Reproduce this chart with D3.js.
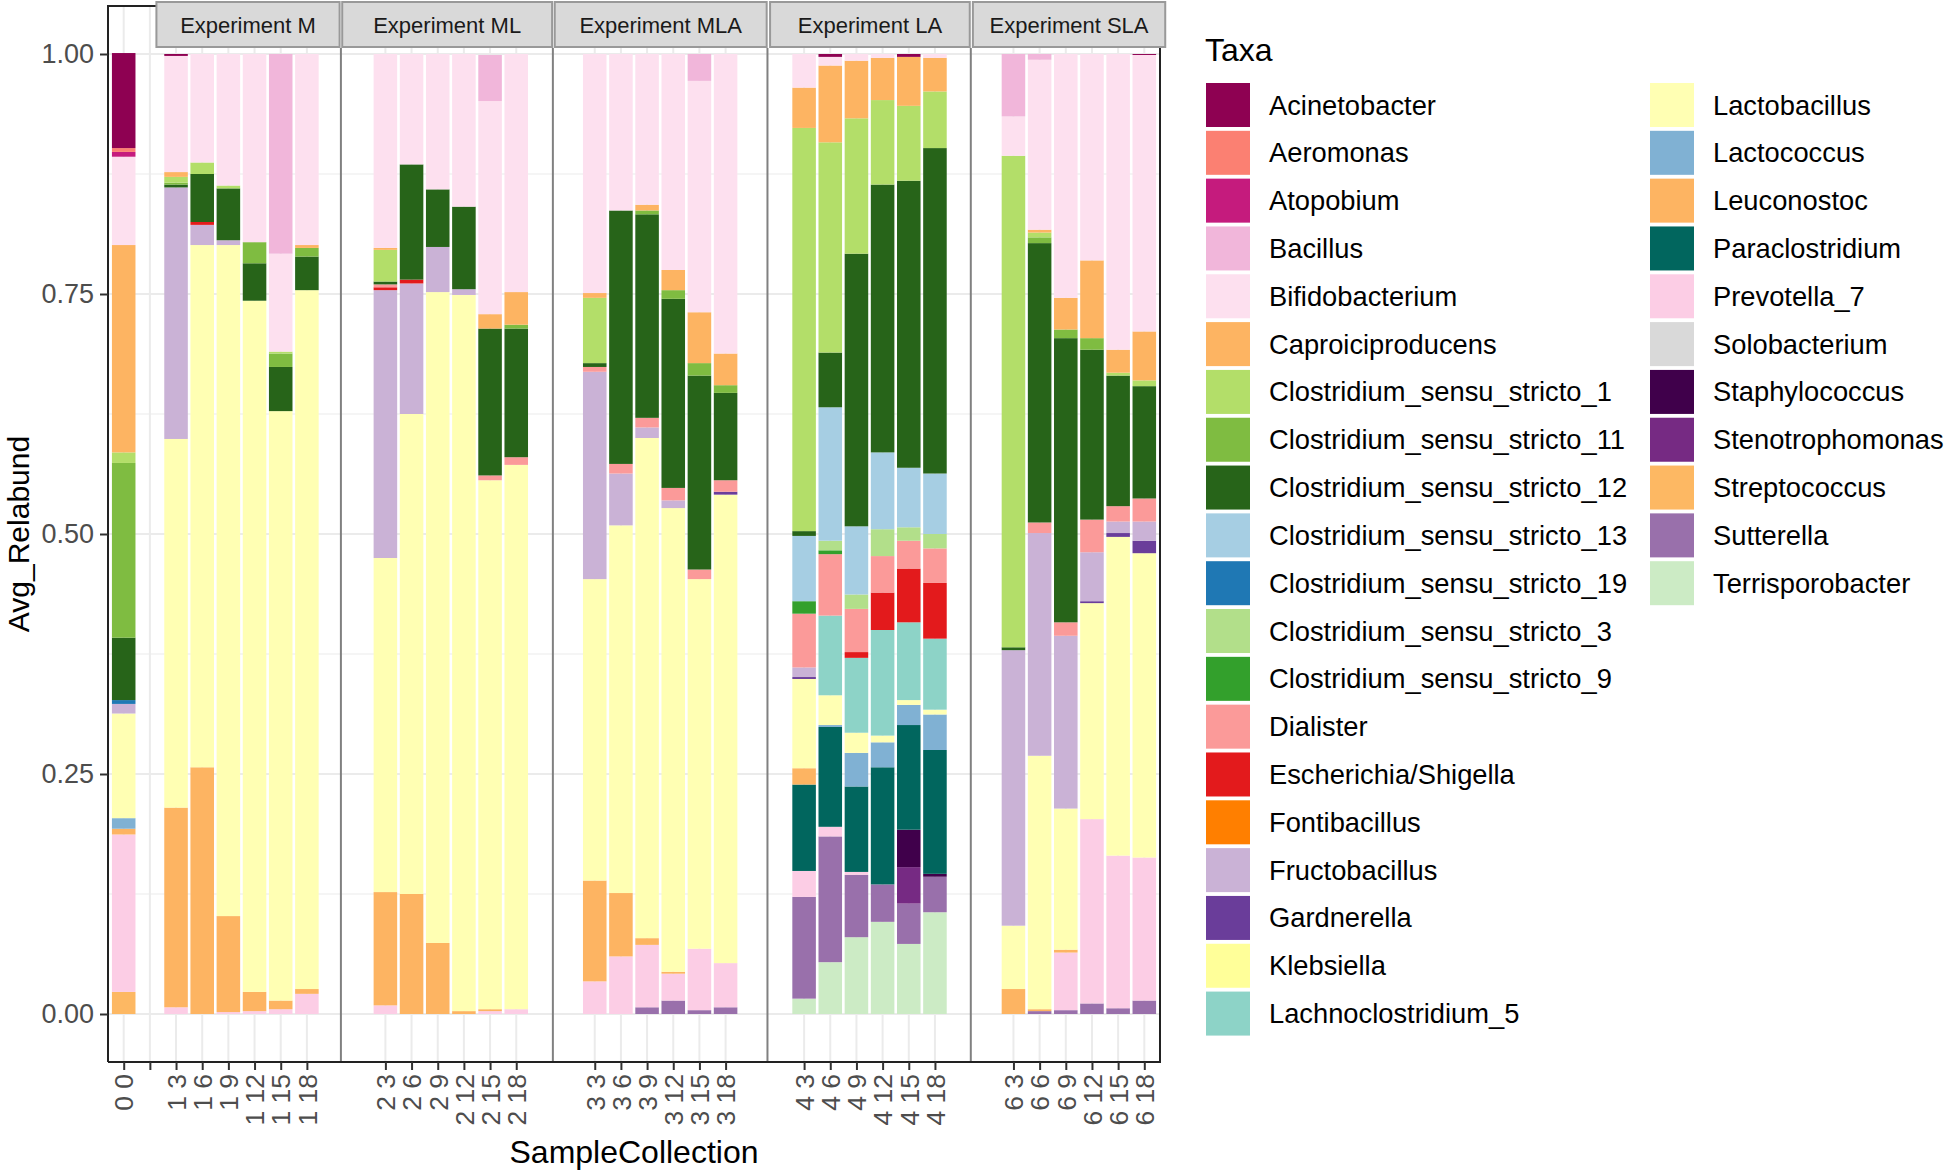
<!DOCTYPE html>
<html>
<head>
<meta charset="utf-8">
<script src="https://cdn.jsdelivr.net/npm/d3@7"></script>
<style>
  body { margin: 0; background: #fff; }
  text { font-family: "Liberation Sans", Arial, sans-serif; }
</style>
</head>
<body>
<svg id="chart" width="1946" height="1171"></svg>
<script>
// ---- data ----
const CSS = "Clostridium_sensu_stricto_";

const taxa = ["Acinetobacter", "Aeromonas", "Atopobium", "Bacillus", "Bifidobacterium",
  "Caproiciproducens", CSS + "1", CSS + "11", CSS + "12", CSS + "13", CSS + "19", CSS + "3",
  CSS + "9", "Dialister", "Escherichia/Shigella", "Fontibacillus", "Fructobacillus",
  "Gardnerella", "Klebsiella", "Lachnoclostridium_5", "Lactobacillus", "Lactococcus",
  "Leuconostoc", "Paraclostridium", "Prevotella_7", "Solobacterium", "Staphylococcus",
  "Stenotrophomonas", "Streptococcus", "Sutterella", "Terrisporobacter"];

const taxaColors = ["#8E0152", "#FB8072", "#C51B7D", "#F1B6DA", "#FDE0EF",
  "#FDB462", "#B3DE69", "#7FBC41", "#276419", "#A6CEE3", "#1F78B4", "#B2DF8A",
  "#33A02C", "#FB9A99", "#E31A1C", "#FF7F00", "#CAB2D6",
  "#6A3D9A", "#FFFF99", "#8DD3C7", "#FFFFB3", "#80B1D3",
  "#FDB462", "#01665E", "#FCCDE5", "#D9D9D9", "#40004B",
  "#762A83", "#FDB863", "#9970AB", "#CCEBC5"];

const experiments = ["", "Experiment M", "Experiment ML", "Experiment MLA", "Experiment LA", "Experiment SLA"];

const expControl = [
  ["0 0", [["Acinetobacter", .099], ["Aeromonas", .004], ["Atopobium", .005], ["Bifidobacterium", .092],
    ["Caproiciproducens", .216], [CSS + "1", .011], [CSS + "11", .182], [CSS + "12", .065], [CSS + "19", .004],
    ["Fructobacillus", .010], ["Lactobacillus", .109], ["Lactococcus", .011], ["Leuconostoc", .006],
    ["Prevotella_7", .164], ["Streptococcus", .023]]],
  ["", []]
];

const expM = [
  ["1 3", [["Acinetobacter", .002], ["Bifidobacterium", .121], ["Caproiciproducens", .005], [CSS + "1", .006],
    [CSS + "11", .002], [CSS + "12", .003], ["Fructobacillus", .262], ["Lactobacillus", .384],
    ["Leuconostoc", .208], ["Prevotella_7", .007]]],
  ["1 6", [["Bifidobacterium", .113], [CSS + "1", .012], [CSS + "12", .050], ["Escherichia/Shigella", .003],
    ["Fructobacillus", .021], ["Lactobacillus", .544], ["Leuconostoc", .257]]],
  ["1 9", [["Bifidobacterium", .137], [CSS + "1", .003], [CSS + "12", .054], ["Fructobacillus", .005],
    ["Lactobacillus", .699], ["Leuconostoc", .100], ["Prevotella_7", .002]]],
  ["1 12", [["Bifidobacterium", .196], [CSS + "11", .022], [CSS + "12", .039], ["Lactobacillus", .720],
    ["Leuconostoc", .020], ["Prevotella_7", .003]]],
  ["1 15", [["Bacillus", .208], ["Bifidobacterium", .102], [CSS + "1", .002], [CSS + "11", .014],
    [CSS + "12", .046], ["Lactobacillus", .614], ["Leuconostoc", .009], ["Prevotella_7", .005]]],
  ["1 18", [["Bifidobacterium", .199], ["Caproiciproducens", .003], [CSS + "11", .009], [CSS + "12", .035],
    ["Lactobacillus", .728], ["Leuconostoc", .005], ["Prevotella_7", .021]]]
];

const expML = [
  ["2 3", [["Bifidobacterium", .202], ["Caproiciproducens", .002], [CSS + "1", .033], [CSS + "12", .003],
    ["Dialister", .003], ["Escherichia/Shigella", .003], ["Fructobacillus", .279], ["Lactobacillus", .348],
    ["Leuconostoc", .118], ["Prevotella_7", .009]]],
  ["2 6", [["Bifidobacterium", .115], [CSS + "12", .120], ["Escherichia/Shigella", .004], ["Fructobacillus", .136],
    ["Lactobacillus", .500], ["Leuconostoc", .125]]],
  ["2 9", [["Bifidobacterium", .141], [CSS + "12", .060], ["Fructobacillus", .047], ["Lactobacillus", .678],
    ["Leuconostoc", .074]]],
  ["2 12", [["Bifidobacterium", .159], [CSS + "12", .086], ["Fructobacillus", .006], ["Lactobacillus", .746],
    ["Leuconostoc", .003]]],
  ["2 15", [["Bacillus", .048], ["Bifidobacterium", .222], ["Caproiciproducens", .015], [CSS + "12", .153],
    ["Dialister", .005], ["Lactobacillus", .551], ["Leuconostoc", .002], ["Prevotella_7", .003]]],
  ["2 18", [["Bifidobacterium", .248], ["Caproiciproducens", .034], [CSS + "11", .004], [CSS + "12", .134],
    ["Dialister", .008], ["Lactobacillus", .567], ["Prevotella_7", .005]]]
];

const expMLA = [
  ["3 3", [["Bifidobacterium", .249], ["Caproiciproducens", .005], [CSS + "1", .068], [CSS + "12", .004],
    ["Dialister", .005], ["Fructobacillus", .216], ["Lactobacillus", .314], ["Leuconostoc", .105],
    ["Prevotella_7", .034]]],
  ["3 6", [["Bifidobacterium", .163], [CSS + "12", .264], ["Dialister", .010], ["Fructobacillus", .054],
    ["Lactobacillus", .383], ["Leuconostoc", .066], ["Prevotella_7", .060]]],
  ["3 9", [["Bifidobacterium", .157], ["Caproiciproducens", .006], [CSS + "11", .004], [CSS + "12", .212],
    ["Dialister", .010], ["Fructobacillus", .011], ["Lactobacillus", .521], ["Leuconostoc", .007],
    ["Prevotella_7", .065], ["Sutterella", .007]]],
  ["3 12", [["Bifidobacterium", .225], ["Caproiciproducens", .021], [CSS + "11", .009], [CSS + "12", .197],
    ["Dialister", .013], ["Fructobacillus", .008], ["Lactobacillus", .483], ["Leuconostoc", .002],
    ["Prevotella_7", .028], ["Sutterella", .014]]],
  ["3 15", [["Bacillus", .028], ["Bifidobacterium", .241], ["Caproiciproducens", .053], [CSS + "11", .013],
    [CSS + "12", .202], ["Dialister", .010], ["Lactobacillus", .385], ["Prevotella_7", .064], ["Sutterella", .004]]],
  ["3 18", [["Bifidobacterium", .312], ["Caproiciproducens", .033], [CSS + "11", .008], [CSS + "12", .091],
    ["Dialister", .012], ["Gardnerella", .003], ["Lactobacillus", .488], ["Prevotella_7", .046], ["Sutterella", .007]]]
];

const expLA = [
  ["4 3", [["Bifidobacterium", .035], ["Caproiciproducens", .042], [CSS + "1", .420], [CSS + "12", .005],
    [CSS + "13", .068], [CSS + "9", .013], ["Dialister", .056], ["Fructobacillus", .010], ["Gardnerella", .002],
    ["Lactobacillus", .093], ["Leuconostoc", .017], ["Paraclostridium", .090], ["Prevotella_7", .027],
    ["Sutterella", .106], ["Terrisporobacter", .016]]],
  ["4 6", [["Acinetobacter", .003], ["Bifidobacterium", .009], ["Caproiciproducens", .080], [CSS + "1", .219],
    [CSS + "12", .057], [CSS + "13", .139], [CSS + "3", .010], [CSS + "9", .004], ["Dialister", .064],
    ["Lachnoclostridium_5", .083], ["Lactobacillus", .031], ["Lactococcus", .002], ["Paraclostridium", .104],
    ["Prevotella_7", .010], ["Sutterella", .131], ["Terrisporobacter", .054]]],
  ["4 9", [["Bifidobacterium", .007], ["Caproiciproducens", .060], [CSS + "1", .141], [CSS + "12", .284],
    [CSS + "13", .071], [CSS + "3", .015], ["Dialister", .045], ["Escherichia/Shigella", .006],
    ["Lachnoclostridium_5", .078], ["Lactobacillus", .021], ["Lactococcus", .035], ["Paraclostridium", .089],
    ["Prevotella_7", .003], ["Sutterella", .065], ["Terrisporobacter", .080]]],
  ["4 12", [["Bifidobacterium", .004], ["Caproiciproducens", .044], [CSS + "1", .088], [CSS + "12", .279],
    [CSS + "13", .080], [CSS + "3", .028], ["Dialister", .038], ["Escherichia/Shigella", .039],
    ["Lachnoclostridium_5", .110], ["Lactobacillus", .007], ["Lactococcus", .026], ["Paraclostridium", .122],
    ["Sutterella", .039], ["Terrisporobacter", .096]]],
  ["4 15", [["Acinetobacter", .003], ["Caproiciproducens", .051], [CSS + "1", .078], [CSS + "12", .299],
    [CSS + "13", .062], [CSS + "3", .014], ["Dialister", .029], ["Escherichia/Shigella", .056],
    ["Lachnoclostridium_5", .081], ["Lactobacillus", .005], ["Lactococcus", .021], ["Paraclostridium", .109],
    ["Staphylococcus", .039], ["Stenotrophomonas", .038], ["Sutterella", .042], ["Terrisporobacter", .073]]],
  ["4 18", [["Bifidobacterium", .004], ["Caproiciproducens", .035], [CSS + "1", .059], [CSS + "12", .339],
    [CSS + "13", .063], [CSS + "3", .015], ["Dialister", .036], ["Escherichia/Shigella", .058],
    ["Lachnoclostridium_5", .074], ["Lactobacillus", .005], ["Lactococcus", .037], ["Paraclostridium", .129],
    ["Staphylococcus", .003], ["Sutterella", .037], ["Terrisporobacter", .106]]]
];

const expSLA = [
  ["6 3", [["Bacillus", .065], ["Bifidobacterium", .041], [CSS + "1", .512], [CSS + "12", .003],
    ["Fructobacillus", .287], ["Lactobacillus", .066], ["Leuconostoc", .026]]],
  ["6 6", [["Bacillus", .006], ["Bifidobacterium", .177], ["Caproiciproducens", .003], [CSS + "1", .005],
    [CSS + "11", .006], [CSS + "12", .291], ["Dialister", .011], ["Fructobacillus", .232],
    ["Lactobacillus", .264], ["Leuconostoc", .002], ["Sutterella", .003]]],
  ["6 9", [["Bifidobacterium", .254], ["Caproiciproducens", .033], [CSS + "11", .009], [CSS + "12", .296],
    ["Dialister", .014], ["Fructobacillus", .180], ["Lactobacillus", .147], ["Leuconostoc", .003],
    ["Prevotella_7", .060], ["Sutterella", .004]]],
  ["6 12", [["Bifidobacterium", .215], ["Caproiciproducens", .081], [CSS + "11", .012], [CSS + "12", .177],
    ["Dialister", .034], ["Fructobacillus", .051], ["Gardnerella", .002], ["Lactobacillus", .225],
    ["Prevotella_7", .192], ["Sutterella", .011]]],
  ["6 15", [["Bifidobacterium", .308], ["Caproiciproducens", .024], [CSS + "1", .003], [CSS + "12", .136],
    ["Dialister", .016], ["Fructobacillus", .012], ["Gardnerella", .004], ["Lactobacillus", .332],
    ["Prevotella_7", .159], ["Sutterella", .006]]],
  ["6 18", [["Acinetobacter", .001], ["Bifidobacterium", .288], ["Caproiciproducens", .051], [CSS + "1", .006],
    [CSS + "12", .117], ["Dialister", .024], ["Fructobacillus", .020], ["Gardnerella", .013],
    ["Lactobacillus", .317], ["Prevotella_7", .149], ["Sutterella", .014]]]
];

const yTicks = [0, 0.25, 0.5, 0.75, 1];
const yMinor = [0.125, 0.375, 0.625, 0.875];

// ---- layout ----
const groups = [expControl, expM, expML, expMLA, expLA, expSLA];
const groupStart = [0, 2, 10, 18, 26, 34];          // slot of first sample in each group
const stripRange = [null, [1.25, 8.25], [8.35, 16.37], [16.47, 24.57], [24.7, 32.33], [32.45, 39.8]];
const separators = [8.3, 16.4, 24.6, 32.37];
const panel = { left: 108, right: 1160, top: 6, bottom: 1062 };

const svg = d3.select("#chart");
const x = d3.scaleLinear().domain([-0.6, 39.6]).range([panel.left, panel.right]);
const y = d3.scaleLinear().domain([-0.05, 1.05]).range([panel.bottom, panel.top]);
const color = d3.scaleOrdinal().domain(taxa).range(taxaColors);

// flatten samples into rows with a slot each
const rows = [];
groups.forEach((g, gi) => {
  g.forEach(([label, parts], i) => {
    const row = { label, slot: groupStart[gi] + i };
    taxa.forEach(t => row[t] = 0);
    parts.forEach(([t, v]) => row[t] = v);
    rows.push(row);
  });
});

// gridlines
const grid = svg.append("g");
grid.selectAll(".minor").data(yMinor).enter().append("line")
  .attr("x1", panel.left).attr("x2", panel.right)
  .attr("y1", d => y(d)).attr("y2", d => y(d))
  .attr("stroke", "#EBEBEB").attr("stroke-width", 1);
grid.selectAll(".major").data(yTicks).enter().append("line")
  .attr("x1", panel.left).attr("x2", panel.right)
  .attr("y1", d => y(d)).attr("y2", d => y(d))
  .attr("stroke", "#EBEBEB").attr("stroke-width", 2);
grid.selectAll(".vmajor").data(rows).enter().append("line")
  .attr("x1", d => x(d.slot)).attr("x2", d => x(d.slot))
  .attr("y1", panel.top).attr("y2", panel.bottom)
  .attr("stroke", "#EBEBEB").attr("stroke-width", 2);

// stacked bars: first taxon ends up on top
const stacked = d3.stack().keys(taxa.slice().reverse())(rows);
const bw = 0.9 * (x(1) - x(0));
svg.append("g").selectAll("g").data(stacked).enter().append("g")
  .attr("fill", d => color(d.key))
  .selectAll("rect").data(d => d.filter(s => s[1] - s[0] > 0)).enter().append("rect")
  .attr("x", d => x(d.data.slot) - bw / 2)
  .attr("width", bw)
  .attr("y", d => y(d[1]))
  .attr("height", d => y(d[0]) - y(d[1]));

// panel separators
svg.append("g").selectAll("line").data(separators).enter().append("line")
  .attr("x1", d => x(d)).attr("x2", d => x(d))
  .attr("y1", 48).attr("y2", panel.bottom)
  .attr("stroke", "#808080").attr("stroke-width", 2);

// panel border
svg.append("path")
  .attr("d", `M${panel.left},${panel.bottom}V${panel.top}H${x(1.3)}M${panel.left},${panel.bottom}H${panel.right}V40`)
  .attr("fill", "none").attr("stroke", "#222").attr("stroke-width", 2);

// strips
const strips = svg.append("g").selectAll("g")
  .data(experiments.map((e, i) => ({ name: e, r: stripRange[i] })).filter(d => d.r))
  .enter().append("g");
strips.append("rect")
  .attr("x", d => x(d.r[0])).attr("width", d => x(d.r[1]) - x(d.r[0]))
  .attr("y", 2).attr("height", 45)
  .attr("fill", "#D9D9D9").attr("stroke", "#999").attr("stroke-width", 2);
strips.append("text")
  .attr("x", d => (x(d.r[0]) + x(d.r[1])) / 2).attr("y", 25)
  .attr("text-anchor", "middle").attr("dominant-baseline", "central")
  .attr("font-size", 22).attr("fill", "#1A1A1A")
  .text(d => d.name);

// y axis
const yAxis = svg.append("g").attr("transform", `translate(${panel.left},0)`)
  .call(d3.axisLeft(y).tickValues(yTicks).tickFormat(d3.format(".2f")).tickSize(8).tickPadding(6));
yAxis.select(".domain").remove();
yAxis.selectAll("line").attr("stroke", "#333").attr("stroke-width", 2);
yAxis.selectAll("text").attr("font-size", 27).attr("fill", "#4D4D4D")
  .style("font-family", "'Liberation Sans', Arial, sans-serif");

// x axis
const xAxis = svg.append("g").attr("transform", `translate(0,${panel.bottom})`)
  .call(d3.axisBottom(x).tickValues(rows.map(r => r.slot))
    .tickFormat((d, i) => rows[i].label).tickSize(8).tickPadding(4));
xAxis.select(".domain").remove();
xAxis.selectAll("line").attr("stroke", "#333").attr("stroke-width", 2);
xAxis.selectAll("text")
  .attr("transform", "rotate(-90)")
  .attr("x", -12).attr("y", 0).attr("dy", "0.35em")
  .style("text-anchor", "end")
  .attr("font-size", 26.5).attr("fill", "#4D4D4D")
  .style("font-family", "'Liberation Sans', Arial, sans-serif");

// axis titles
svg.append("text").attr("x", (panel.left + panel.right) / 2).attr("y", 1163)
  .attr("text-anchor", "middle").attr("font-size", 32).attr("fill", "#000")
  .text("SampleCollection");
svg.append("text").attr("transform", `translate(18,${(panel.top + panel.bottom) / 2}) rotate(-90)`)
  .attr("text-anchor", "middle").attr("dominant-baseline", "central")
  .attr("font-size", 30).attr("fill", "#000")
  .text("Avg_Relabund");

// legend
const legend = svg.append("g");
legend.append("text").attr("x", 1205).attr("y", 61).attr("font-size", 32).attr("fill", "#000").text("Taxa");
const perCol = 20, rowH = 47.82, colX = [1206, 1650];
const item = legend.selectAll(".item").data(taxa).enter().append("g")
  .attr("transform", (d, i) => `translate(${colX[Math.floor(i / perCol)]},${83 + (i % perCol) * rowH})`);
item.append("rect").attr("width", 44).attr("height", 44).attr("fill", d => color(d));
item.append("text").attr("x", 63).attr("y", 22).attr("dominant-baseline", "central")
  .attr("font-size", 27.3).attr("fill", "#000").text(d => d);
</script>
</body>
</html>
